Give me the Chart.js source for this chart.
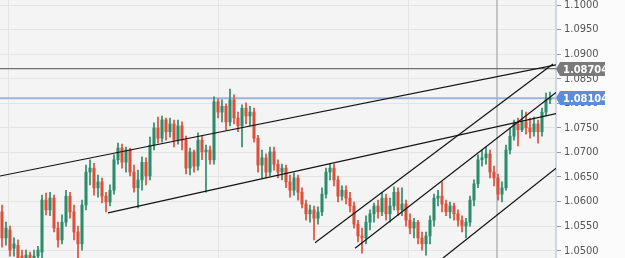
<!DOCTYPE html>
<html>
<head>
<meta charset="utf-8">
<script src="https://cdn.jsdelivr.net/npm/chart.js@4.4.1/dist/chart.umd.min.js"></script>
<style>
html, body { margin: 0; padding: 0; background: #fbfbfb; }
#chart { display: block; }
</style>
</head>
<body>
<canvas id="chart" width="625" height="258"></canvas>
<script>
// EUR/USD candles, oldest first
const opens = [
    1.0579, 1.0526, 1.0542, 1.0505, 1.0511, 1.0489, 1.0481, 1.0491, 1.0477, 1.0489,
    1.0497, 1.0603, 1.0583, 1.0607, 1.0546, 1.0522, 1.0558, 1.0611, 1.0579, 1.0538,
    1.0514, 1.0593, 1.0660, 1.0668, 1.0628, 1.0640, 1.0611, 1.0599, 1.0623, 1.0685,
    1.0709, 1.0680, 1.0705, 1.0660, 1.0628, 1.0644, 1.0680, 1.0652, 1.0715, 1.0750,
    1.0729, 1.0766, 1.0742, 1.0758, 1.0725, 1.0754, 1.0725, 1.0668, 1.0701, 1.0672,
    1.0725, 1.0701, 1.0705, 1.0685, 1.0803, 1.0782, 1.0794, 1.0762, 1.0807, 1.0770,
    1.0754, 1.0790, 1.0774, 1.0782, 1.0729, 1.0674, 1.0689, 1.0660, 1.0701, 1.0676,
    1.0660, 1.0668, 1.0640, 1.0623, 1.0648, 1.0619, 1.0595, 1.0575, 1.0583, 1.0566,
    1.0579, 1.0615, 1.0660, 1.0668, 1.0644, 1.0611, 1.0623, 1.0607, 1.0591, 1.0554,
    1.0530, 1.0526, 1.0558, 1.0575, 1.0591, 1.0579, 1.0607, 1.0575, 1.0591, 1.0619,
    1.0583, 1.0595, 1.0562, 1.0546, 1.0558, 1.0526, 1.0514, 1.0530, 1.0562, 1.0607,
    1.0611, 1.0595, 1.0579, 1.0591, 1.0575, 1.0562, 1.0550, 1.0558, 1.0603, 1.0636,
    1.0685, 1.0689, 1.0697, 1.0660, 1.0648, 1.0615, 1.0628, 1.0705, 1.0733, 1.0758,
    1.0746, 1.0762, 1.0750, 1.0742, 1.0758, 1.0742, 1.0782, 1.0807
];
const highs = [
    1.0593, 1.0558, 1.0550, 1.0526, 1.0522, 1.0501, 1.0501, 1.0497, 1.0501, 1.0509,
    1.0613, 1.0617, 1.0619, 1.0613, 1.0558, 1.0573, 1.0623, 1.0619, 1.0593, 1.0550,
    1.0603, 1.0674, 1.0685, 1.0678, 1.0654, 1.0648, 1.0619, 1.0634, 1.0695, 1.0719,
    1.0717, 1.0711, 1.0709, 1.0674, 1.0664, 1.0691, 1.0689, 1.0731, 1.0760, 1.0772,
    1.0774, 1.0770, 1.0770, 1.0766, 1.0766, 1.0762, 1.0733, 1.0709, 1.0705, 1.0740,
    1.0733, 1.0715, 1.0713, 1.0813, 1.0809, 1.0807, 1.0799, 1.0829, 1.0817, 1.0782,
    1.0797, 1.0801, 1.0794, 1.0790, 1.0735, 1.0705, 1.0697, 1.0711, 1.0711, 1.0685,
    1.0676, 1.0674, 1.0654, 1.0658, 1.0654, 1.0628, 1.0603, 1.0593, 1.0591, 1.0589,
    1.0628, 1.0668, 1.0678, 1.0676, 1.0652, 1.0632, 1.0632, 1.0619, 1.0599, 1.0562,
    1.0546, 1.0571, 1.0583, 1.0597, 1.0603, 1.0619, 1.0615, 1.0607, 1.0630, 1.0628,
    1.0628, 1.0603, 1.0575, 1.0566, 1.0562, 1.0538, 1.0538, 1.0571, 1.0615, 1.0623,
    1.0640, 1.0603, 1.0599, 1.0597, 1.0583, 1.0571, 1.0566, 1.0611, 1.0644, 1.0695,
    1.0705, 1.0711, 1.0705, 1.0672, 1.0656, 1.0640, 1.0715, 1.0750, 1.0766, 1.0770,
    1.0786, 1.0782, 1.0770, 1.0772, 1.0766, 1.0790, 1.0821, 1.0823
];
const lows = [
    1.0507, 1.0511, 1.0489, 1.0489, 1.0477, 1.0465, 1.0469, 1.0461, 1.0465, 1.0477,
    1.0485, 1.0573, 1.0571, 1.0538, 1.0507, 1.0514, 1.0550, 1.0566, 1.0522, 1.0481,
    1.0501, 1.0583, 1.0634, 1.0613, 1.0609, 1.0597, 1.0579, 1.0591, 1.0615, 1.0676,
    1.0668, 1.0660, 1.0652, 1.0619, 1.0587, 1.0623, 1.0634, 1.0644, 1.0705, 1.0719,
    1.0721, 1.0725, 1.0731, 1.0711, 1.0717, 1.0705, 1.0656, 1.0654, 1.0660, 1.0664,
    1.0685, 1.0619, 1.0676, 1.0676, 1.0770, 1.0762, 1.0746, 1.0754, 1.0758, 1.0742,
    1.0711, 1.0758, 1.0754, 1.0721, 1.0660, 1.0648, 1.0648, 1.0652, 1.0664, 1.0648,
    1.0644, 1.0628, 1.0609, 1.0613, 1.0603, 1.0587, 1.0562, 1.0558, 1.0522, 1.0554,
    1.0571, 1.0607, 1.0644, 1.0632, 1.0599, 1.0603, 1.0595, 1.0579, 1.0546, 1.0518,
    1.0495, 1.0514, 1.0542, 1.0558, 1.0566, 1.0571, 1.0562, 1.0558, 1.0583, 1.0571,
    1.0571, 1.0550, 1.0534, 1.0526, 1.0514, 1.0501, 1.0491, 1.0514, 1.0550, 1.0591,
    1.0579, 1.0571, 1.0566, 1.0562, 1.0550, 1.0538, 1.0526, 1.0550, 1.0591, 1.0628,
    1.0672, 1.0676, 1.0648, 1.0632, 1.0603, 1.0599, 1.0623, 1.0697, 1.0725, 1.0713,
    1.0742, 1.0737, 1.0729, 1.0733, 1.0719, 1.0733, 1.0774, 1.0799
];
const closes = [
    1.0526, 1.0546, 1.0501, 1.0514, 1.0485, 1.0477, 1.0491, 1.0477, 1.0489, 1.0501,
    1.0603, 1.0583, 1.0607, 1.0546, 1.0522, 1.0558, 1.0611, 1.0579, 1.0538, 1.0514,
    1.0593, 1.0660, 1.0668, 1.0628, 1.0640, 1.0611, 1.0599, 1.0623, 1.0685, 1.0709,
    1.0680, 1.0705, 1.0660, 1.0628, 1.0644, 1.0680, 1.0652, 1.0715, 1.0750, 1.0729,
    1.0766, 1.0742, 1.0758, 1.0725, 1.0754, 1.0725, 1.0668, 1.0701, 1.0672, 1.0725,
    1.0701, 1.0705, 1.0685, 1.0803, 1.0782, 1.0794, 1.0762, 1.0807, 1.0770, 1.0754,
    1.0790, 1.0774, 1.0782, 1.0729, 1.0674, 1.0689, 1.0660, 1.0701, 1.0676, 1.0660,
    1.0668, 1.0640, 1.0623, 1.0648, 1.0619, 1.0595, 1.0575, 1.0583, 1.0566, 1.0579,
    1.0615, 1.0660, 1.0668, 1.0644, 1.0611, 1.0623, 1.0607, 1.0591, 1.0554, 1.0530,
    1.0526, 1.0558, 1.0575, 1.0591, 1.0579, 1.0607, 1.0575, 1.0591, 1.0619, 1.0583,
    1.0595, 1.0562, 1.0546, 1.0558, 1.0526, 1.0514, 1.0530, 1.0562, 1.0607, 1.0611,
    1.0595, 1.0579, 1.0591, 1.0575, 1.0562, 1.0550, 1.0558, 1.0603, 1.0636, 1.0685,
    1.0689, 1.0697, 1.0660, 1.0648, 1.0615, 1.0628, 1.0705, 1.0733, 1.0758, 1.0746,
    1.0762, 1.0750, 1.0742, 1.0758, 1.0742, 1.0782, 1.0807, 1.0810
];

// trendlines drawn on the chart: [[startIndex, startPrice], [endIndex, endPrice]]
const trendLines = [
    [[-0.5, 1.0652], [138.5, 1.0878]],
    [[26.5, 1.0577], [138.5, 1.0779]],
    [[78.25, 1.0516], [137.75, 1.0880]],
    [[88.25, 1.0505], [138.5, 1.0822]],
    [[110.25, 1.0485], [138.5, 1.0668]]
];

// horizontal price markers with their tags
const priceLines = [1.08704, 1.08104];
const priceColors = ['#6f6f6f', '#9cb4dc'];
const tagColors = ['#7a7a7a', '#5b8ed6'];

const yTicks = [1.05, 1.055, 1.06, 1.065, 1.07, 1.075, 1.08, 1.085, 1.09, 1.095, 1.1];
const xGrid = [1.5, 54, 101.5];   // session separators
const cursorX = 123.75;

const UP = '#2b8c6c';
const DOWN = '#dd4f39';
const candleColor = ctx => closes[ctx.dataIndex] >= opens[ctx.dataIndex] ? UP : DOWN;

const wicks = opens.map((o, i) => ({ x: i, y: [lows[i], highs[i]] }));
const bodies = opens.map((o, i) => ({ x: i, y: [o, closes[i]] }));

const lineSets = trendLines.map(seg => ({
    type: 'line',
    data: seg.map(p => ({ x: p[0], y: p[1] })),
    borderColor: '#141414',
    borderWidth: 1.2,
    pointRadius: 0,
    order: 0
}));

const priceSets = priceLines.map((v, k) => ({
    type: 'line',
    data: [{ x: -0.5, y: v }, { x: 138.5, y: v }],
    borderColor: priceColors[k],
    borderWidth: k === 0 ? 1.2 : 2,
    pointRadius: 0,
    order: 3
}));

const noPad = s => { s.paddingTop = 0; s.paddingBottom = 0; s.paddingLeft = 0; s.paddingRight = 0; };

const chartDecor = {
    id: 'chartDecor',
    beforeDraw(chart) {
        const { ctx, chartArea: a } = chart;
        ctx.save();
        ctx.fillStyle = '#fbfbfb';
        ctx.fillRect(0, 0, chart.width, chart.height);
        ctx.fillStyle = '#f4f4f4';
        ctx.fillRect(a.left, a.top, a.right - a.left, a.bottom - a.top);
        ctx.restore();
    },
    beforeDatasetsDraw(chart) {
        const { ctx, chartArea: a, scales: { x } } = chart;
        const px = x.getPixelForValue(cursorX);
        ctx.save();
        ctx.strokeStyle = '#b4b4b4';
        ctx.lineWidth = 1.5;
        ctx.beginPath();
        ctx.moveTo(px, a.top);
        ctx.lineTo(px, a.bottom);
        ctx.stroke();
        ctx.restore();
    },
    afterDraw(chart) {
        const { ctx, chartArea: a, scales: { y } } = chart;
        ctx.save();
        priceLines.forEach((v, k) => {
            const py = Math.round(y.getPixelForValue(v));
            const x0 = a.right + 4, w = 45, h = 14;
            ctx.fillStyle = tagColors[k];
            ctx.beginPath();
            ctx.moveTo(a.right, py);
            ctx.lineTo(x0, py - h / 2);
            ctx.lineTo(x0 + w, py - h / 2);
            ctx.lineTo(x0 + w, py + h / 2);
            ctx.lineTo(x0, py + h / 2);
            ctx.closePath();
            ctx.fill();
            ctx.fillStyle = '#fff';
            ctx.font = 'bold 11px "Liberation Sans Narrow", "DejaVu Sans Condensed", Arial, sans-serif';
            ctx.textBaseline = 'middle';
            ctx.fillText(v.toFixed(5), x0 + 3, py + 1);
        });
        ctx.restore();
    }
};

new Chart(document.getElementById('chart'), {
    type: 'bar',
    data: {
        datasets: [
            ...lineSets,
            ...priceSets,
            { data: wicks, backgroundColor: candleColor, barThickness: 1, grouped: false, order: 2 },
            { data: bodies, backgroundColor: candleColor, barThickness: 2.4, minBarLength: 1, grouped: false, order: 1 }
        ]
    },
    options: {
        responsive: false,
        animation: false,
        devicePixelRatio: 1,
        layout: { padding: 0 },
        plugins: { legend: { display: false }, tooltip: { enabled: false } },
        scales: {
            x: {
                type: 'linear',
                min: -0.5,
                max: 138.5,
                offset: false,
                afterBuildTicks: s => { s.ticks = xGrid.map(v => ({ value: v })); },
                afterFit: s => { s.height = 0; noPad(s); },
                ticks: { display: false },
                border: { display: false },
                grid: { color: '#e4e4e4', drawTicks: false, offset: false }
            },
            y: {
                position: 'right',
                min: 1.04851,
                max: 1.10102,
                afterBuildTicks: s => { s.ticks = yTicks.map(v => ({ value: v })); },
                afterFit: s => { s.width = 69; noPad(s); },
                border: { color: '#cfd7e6', width: 2 },
                grid: { color: '#e4e4e4', tickColor: '#9a9a9a', tickLength: 5 },
                ticks: {
                    color: '#555',
                    padding: 3,
                    font: { family: '"Liberation Sans Narrow", "DejaVu Sans Condensed", Arial, sans-serif', size: 11 },
                    callback: v => v.toFixed(4)
                }
            }
        }
    },
    plugins: [chartDecor]
});
</script>
</body>
</html>
